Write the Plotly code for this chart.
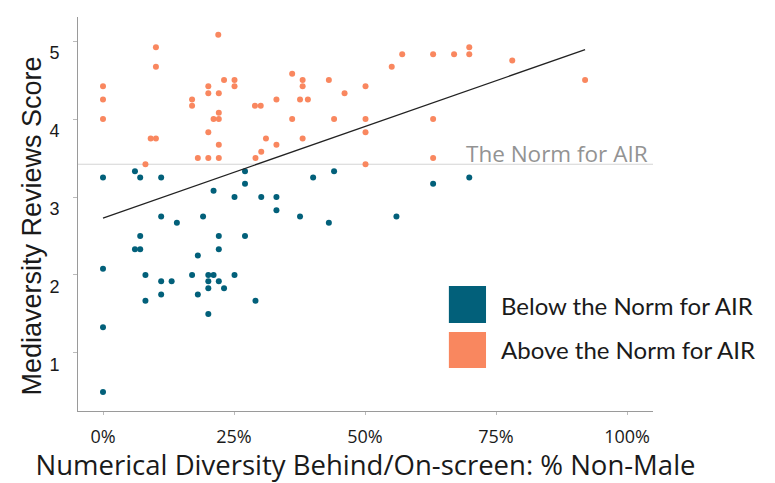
import plotly.graph_objects as go

# ---- data ----
below_x = [0, 6.1, 7.1, 11.1, 27.1, 27.1, 21.1, 25.1, 30.2, 33.1, 33.1, 11.1, 19.1,
           44.1, 40.1, 69.9, 63.0, 37.6, 56.0, 43.1, 14.1, 7.1, 22.1, 27.1, 6.1, 7.1,
           22.1, 18.1, 0, 8.1, 17.0, 20.1, 21.1, 25.1, 11.1, 13.1, 20.1, 22.1, 20.1,
           23.1, 11.1, 18.1, 8.1, 29.1, 20.1, 0, 0]
below_y = [3.25, 3.33, 3.25, 3.25, 3.33, 3.17, 3.08, 3.0, 3.0, 3.0, 2.83, 2.75, 2.75,
           3.33, 3.25, 3.25, 3.17, 2.75, 2.75, 2.67, 2.67, 2.5, 2.5, 2.5, 2.33, 2.33,
           2.33, 2.25, 2.08, 2.0, 2.0, 2.0, 2.0, 2.0, 1.92, 1.92, 1.92, 1.92, 1.83,
           1.83, 1.75, 1.75, 1.67, 1.67, 1.5, 1.33, 0.5]

above_x = [22.0, 10.1, 10.1, 0, 0, 0, 23.1, 25.1, 25.1, 20.1, 20.1, 22.1, 17.0, 17.0,
           22.1, 21.1, 22.1, 29.0, 30.1, 33.1, 9.1, 10.1, 20.1, 31.1, 22.1, 33.1, 30.2,
           18.1, 20.1, 22.1, 29.1, 8.1, 69.9, 57.1, 63.0, 67.0, 69.9, 55.1, 36.1, 38.1,
           38.1, 43.1, 46.1, 50.1, 37.6, 39.1, 36.1, 44.1, 50.1, 63.0, 50.1, 38.1, 63.0,
           50.1, 78.1, 92.0]
above_y = [5.08, 4.92, 4.67, 4.42, 4.25, 4.0, 4.5, 4.5, 4.42, 4.42, 4.33, 4.33, 4.25, 4.17,
           4.08, 4.0, 4.0, 4.17, 4.17, 4.25, 3.75, 3.75, 3.83, 3.75, 3.67, 3.67, 3.58,
           3.5, 3.5, 3.5, 3.5, 3.42, 4.92, 4.83, 4.83, 4.83, 4.83, 4.67, 4.58, 4.5,
           4.42, 4.5, 4.33, 4.42, 4.25, 4.25, 4.0, 4.0, 4.0, 4.0, 3.83, 3.75, 3.5,
           3.42, 4.75, 4.5]

trend_x = [0, 92]
trend_y = [2.73, 4.89]

norm_value = 3.42
x_ticks = [0, 25, 50, 75, 100]
x_tick_labels = ["0%", "25%", "50%", "75%", "100%"]
y_ticks = [1, 2, 3, 4, 5]
y_tick_labels = ["1", "2", "3", "4", "5"]
legend_labels = ["Below the Norm for AIR", "Above the Norm for AIR"]

TEAL = "#02607A"
ORANGE = "#F9875F"

fig = go.Figure()
fig.add_trace(go.Scatter(x=below_x, y=below_y, mode="markers",
                         marker=dict(color=TEAL, size=6), name=legend_labels[0]))
fig.add_trace(go.Scatter(x=above_x, y=above_y, mode="markers",
                         marker=dict(color=ORANGE, size=6), name=legend_labels[1]))
fig.add_trace(go.Scatter(x=trend_x, y=trend_y, mode="lines",
                         line=dict(color="#222222", width=1.3), name="trend"))

fig.add_shape(type="line", xref="paper", x0=0, x1=1, yref="y", y0=norm_value, y1=norm_value,
              line=dict(color="#d4d4d4", width=1.2), layer="below")
fig.add_annotation(text="The Norm for AIR", xref="paper", x=0.994, xanchor="right",
                   yref="y", y=norm_value, yanchor="bottom", yshift=-7, showarrow=False,
                   font=dict(family="Open Sans", size=22.5, color="#939393"))

# legend drawn as squares + text
leg_font = dict(family="Lato", size=24, color="#1a1a1a")
fig.add_shape(type="rect", xref="paper", yref="paper", x0=0.645, x1=0.7096,
              y0=0.2234, y1=0.3173, fillcolor=TEAL, line=dict(width=0))
fig.add_shape(type="rect", xref="paper", yref="paper", x0=0.645, x1=0.7096,
              y0=0.1091, y1=0.2005, fillcolor=ORANGE, line=dict(width=0))
fig.add_annotation(text=legend_labels[0], xref="paper", yref="paper", x=0.732, y=0.269,
                   xanchor="left", yanchor="middle", showarrow=False, font=leg_font)
fig.add_annotation(text=legend_labels[1], xref="paper", yref="paper", x=0.732, y=0.155,
                   xanchor="left", yanchor="middle", showarrow=False, font=leg_font)

# y-axis title (placed slightly below the plot centre, as in the reference)
fig.add_annotation(text="Mediaversity Reviews Score", xref="paper", yref="paper",
                   x=-0.08, y=0.468, xanchor="center", yanchor="middle", textangle=-90,
                   showarrow=False,
                   font=dict(family="Liberation Sans", size=27, color="#1a1a1a"))

# page body has an 8px margin: figure is 8px smaller and margins shifted accordingly
fig.update_layout(
    width=767, height=475,
    margin=dict(l=70, r=122, t=9, b=72),
    paper_bgcolor="white", plot_bgcolor="white",
    showlegend=False,
    font=dict(family="Liberation Sans", color="#1a1a1a"),
)
fig.update_xaxes(
    range=[-4.77, 104.96], tickvals=x_ticks, ticktext=x_tick_labels, automargin=False,
    showgrid=False, zeroline=False, showline=True, linecolor="#9a9a9a", linewidth=1,
    ticks="outside", ticklen=3, tickcolor="#bbbbbb",
    tickfont=dict(family="Open Sans", size=18, color="#1a1a1a"), ticklabelstandoff=6,
    title=dict(text="Numerical Diversity Behind/On-screen: % Non-Male",
               font=dict(family="Open Sans", size=27.5, color="#1a1a1a"), standoff=13),
)
fig.update_yaxes(
    range=[0.256, 5.308], tickvals=y_ticks, ticktext=y_tick_labels, automargin=False,
    showgrid=False, zeroline=False, showline=True, linecolor="#9a9a9a", linewidth=1,
    ticks="outside", ticklen=4, tickcolor="#bbbbbb",
    tickfont=dict(family="Liberation Sans", size=18, color="#1a1a1a"),
    ticklabelstandoff=10, ticklabelshift=12,
)

fig.write_html("out.html")
